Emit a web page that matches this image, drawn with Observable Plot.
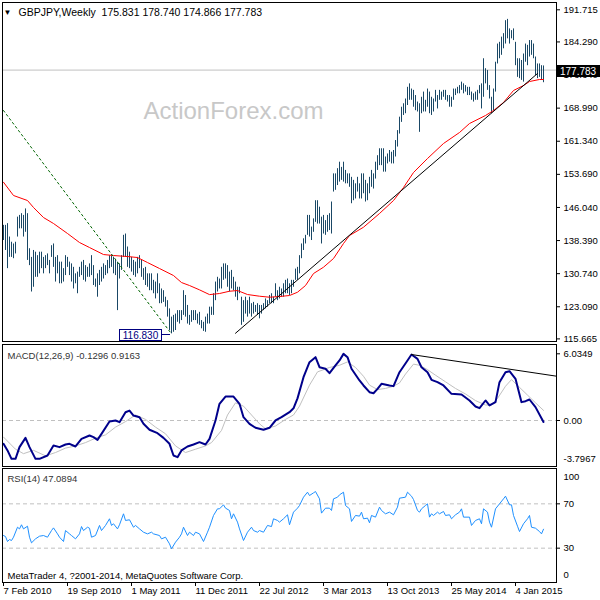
<!DOCTYPE html>
<html><head><meta charset="utf-8">
<script src="https://cdn.jsdelivr.net/npm/d3@7"></script>
<script src="https://cdn.jsdelivr.net/npm/@observablehq/plot@0.6"></script>
<style>
html,body{margin:0;padding:0;background:#fff;}
#chart{position:relative;width:600px;height:600px;background:#fff;overflow:hidden;}
</style></head><body><div id="chart"></div>
<script>
const FONT = "Tahoma, 'Liberation Sans', Arial, sans-serif";
const symbol = "GBPJPY", timeframe = "Weekly";
const lastOHLC = [175.831, 178.740, 174.866, 177.783];
const watermark = "ActionForex.com";
const copyright = "MetaTrader 4, ?2001-2014, MetaQuotes Software Corp.";

// weekly highs / lows, week 0 = 7 Feb 2010
const highs = [
141.9,141.9,142.3,139.2,138.0,137.6,138.0,143.8,144.2,144.6,
144.2,145.7,144.6,136.5,134.5,136.1,135.7,134.9,135.7,135.7,
134.5,134.9,135.3,133.8,137.2,137.6,134.5,134.9,133.4,133.4,
131.9,134.9,134.5,133.4,133.0,132.2,130.7,131.1,132.2,133.4,
133.8,132.6,132.2,133.0,134.9,132.6,129.5,130.7,131.5,132.2,
133.0,132.6,133.8,134.9,135.1,134.5,133.8,133.4,133.0,134.9,
139.6,139.9,136.9,135.7,134.5,133.8,133.4,134.5,134.9,133.8,
131.9,132.2,130.7,130.7,130.7,129.2,128.8,130.7,128.4,127.2,
126.8,125.3,124.5,122.6,120.7,121.1,121.4,122.2,122.2,122.2,
126.8,125.7,123.4,121.1,122.2,122.2,122.2,121.4,121.8,119.9,
119.5,120.7,121.4,123.0,123.0,126.1,128.8,129.9,129.5,132.2,
133.0,133.0,132.6,131.1,131.5,129.9,128.8,127.6,127.6,125.3,
124.5,125.3,124.5,125.3,123.8,124.1,123.4,123.8,123.4,123.4,
123.8,124.9,124.5,125.7,126.1,125.3,128.4,126.8,127.6,127.2,
128.4,129.2,129.5,128.4,129.2,129.2,131.8,132.2,134.9,137.6,
138.8,139.6,144.2,144.2,141.5,143.4,147.6,147.6,146.1,143.8,
144.2,143.0,144.2,144.6,147.3,153.8,153.8,155.0,156.5,155.3,
156.5,154.6,153.8,153.8,153.0,152.3,151.5,153.0,151.5,153.8,
153.8,152.3,151.5,153.0,154.6,153.8,156.5,158.0,159.6,159.6,
159.6,157.7,158.4,159.2,158.8,159.2,161.5,163.8,166.9,169.2,
170.0,171.1,173.8,174.6,173.4,173.1,171.9,170.4,170.0,171.5,
172.7,170.8,173.4,172.7,171.5,171.1,173.1,171.9,173.1,172.7,
173.1,173.1,171.9,171.9,171.5,173.4,173.4,173.8,174.2,175.0,
174.6,174.2,173.8,173.8,172.7,172.3,172.7,173.1,174.2,174.6,
180.4,178.1,177.7,174.2,171.5,173.4,179.6,183.8,184.2,185.4,
186.2,189.2,189.5,187.3,186.9,187.3,184.2,180.4,180.4,180.0,
181.5,183.8,183.5,184.6,184.6,183.8,180.8,179.2,179.2,178.8,
178.740];
const lows = [
138.4,136.1,131.9,134.5,134.5,134.2,135.3,139.2,141.1,141.1,
139.2,140.3,133.8,132.6,126.5,127.6,129.9,129.9,130.7,131.9,
130.7,131.9,132.6,130.7,134.5,132.2,128.8,130.7,128.4,128.4,
128.8,130.3,132.2,130.3,128.8,127.2,128.4,126.1,129.9,130.3,
129.2,128.8,129.9,129.9,130.3,128.0,127.6,125.3,128.0,128.8,
129.5,130.3,130.7,131.9,132.2,130.7,130.3,122.2,129.5,131.5,
134.5,134.5,132.2,131.9,131.1,130.3,129.9,130.7,131.9,129.9,
129.2,128.0,127.6,126.8,126.8,126.1,124.9,126.1,123.8,123.8,
124.1,123.0,120.7,117.6,116.83,117.2,117.6,119.5,119.1,119.9,
121.1,120.7,119.1,118.8,119.5,119.9,119.9,119.1,118.8,118.0,
117.4,117.2,119.1,119.1,121.1,121.1,124.5,126.5,127.2,127.2,
129.2,129.5,127.6,126.5,127.2,126.8,125.3,124.5,126.1,118.8,
119.5,121.4,120.7,121.4,120.7,121.4,121.8,121.1,120.3,121.4,
122.2,122.6,123.0,123.8,123.8,123.8,125.3,124.5,124.9,125.3,
125.3,126.1,126.1,125.7,126.1,127.6,129.2,129.2,130.7,134.2,
136.1,137.6,139.6,139.2,138.4,140.3,142.6,142.2,142.2,137.6,
139.9,139.6,140.3,140.7,139.9,149.6,150.0,151.1,151.9,152.3,
151.9,151.5,151.5,150.7,146.9,147.6,148.0,149.6,148.0,148.0,
149.2,147.3,147.6,149.2,150.7,150.3,152.6,154.6,155.7,155.7,
154.2,154.2,156.1,156.5,156.1,156.1,157.7,160.0,163.0,165.7,
167.3,167.7,169.6,170.8,170.8,169.2,168.4,168.1,163.4,167.7,
168.1,168.1,169.2,167.7,167.3,168.1,170.4,168.8,170.8,170.8,
171.5,170.8,170.4,169.2,169.2,170.8,171.9,172.3,172.3,173.1,
172.3,172.7,171.9,171.9,170.8,170.4,170.8,170.8,172.3,168.8,
171.5,174.6,173.1,171.1,167.7,168.4,172.7,179.2,180.4,181.2,
182.7,183.8,185.0,183.8,185.0,184.6,178.8,176.1,175.8,175.4,
175.0,179.6,178.8,180.8,181.2,180.4,176.5,175.8,176.1,175.4,
174.866];

// moving average (red)
const maWeeks  = [0,5,12,15,20,25,32,38,43,50,55,62,67,72,78,85,89,93,98,103,108,113,117,122,128,133,138,143,147,151,155,160,165,170,173,180,188,195,200,205,212,220,228,233,241,245,250,255,260,263,268,270];
const maValues = [151.87,148.80,147.64,146.03,143.71,142.33,140.02,137.94,136.78,135.16,134.93,134.70,134.47,133.31,131.93,130.31,128.69,128.0,127.0,125.9,126.15,126.68,126.84,125.92,125.53,125.3,125.46,125.69,126.45,128.0,130.77,132.23,134.24,137.71,139.55,141.47,144.64,147.64,150.65,154.12,157.35,160.82,163.36,165.44,167.29,168.44,170.29,173.07,174.22,175.14,175.61,175.6];

// drawn trend lines
const supportWeeks = [116, 267], supportValues = [116.97, 176.99];
const resistWeeks = [0, 84], resistValues = [168.44, 116.83];

// MACD(12,26,9)
const macdWeeks  = [0,2,4,6,8,11,13,16,18,22,25,28,31,33,36,39,43,45,47,49,53,56,58,61,63,65,68,70,73,77,80,83,85,87,89,92,95,98,101,103,106,108,111,115,118,120,123,126,130,133,136,139,143,145,147,150,153,156,158,161,163,166,168,170,172,174,178,180,183,185,187,189,193,195,198,202,204,207,209,212,214,217,220,224,229,233,236,238,241,243,246,248,251,253,256,259,261,263,266,270];
const macdValues = [-2.11,-2.71,-3.47,-3.47,-2.41,-1.57,-2.41,-3.47,-3.47,-3.17,-2.26,-2.41,-2.17,-2.11,-2.35,-1.66,-1.36,-1.51,-1.75,-1.21,-0.09,0,-0.15,0.75,0.90,0.45,0.30,-0.30,-0.84,-1.15,-1.57,-2.11,-3.17,-3.32,-2.71,-2.35,-2.17,-1.96,-2.17,-1.66,0,1.51,2.17,2.17,1.51,0.30,-0.30,-0.66,-0.84,-0.66,0,0.30,0.75,1.1,2.0,3.92,5.28,5.73,4.82,4.68,4.28,4.98,5.43,6.03,5.73,4.68,3.62,3.17,2.56,2.47,2.86,3.32,3.17,3.11,4.37,5.43,5.97,5.58,4.82,4.37,3.68,3.47,3.17,2.41,2.35,1.81,1.27,1.12,1.81,1.36,1.66,3.47,4.37,4.46,3.77,1.66,1.75,1.90,1.21,-0.1296];
const signalWeeks  = [0,6,10,15,21,26,31,36,41,46,51,56,61,66,71,76,81,86,91,96,101,104,109,112,116,120,124,128,131,136,141,145,148,153,157,163,168,172,176,180,183,187,191,195,198,201,205,208,212,216,221,226,231,236,241,244,247,251,254,258,262,266,270];
const signalValues = [-1.5,-2.6,-3.0,-2.7,-3.2,-2.9,-2.5,-2.3,-2.0,-1.6,-1.3,-0.6,-0.1,0.5,0.1,-0.6,-1.2,-2.3,-2.9,-2.6,-2.3,-2.0,-0.9,0.5,1.6,1.3,0.5,-0.3,-0.75,-0.5,0.1,0.5,1.3,3.2,4.4,4.8,5.0,5.3,4.8,4.0,3.2,2.8,2.9,3.1,3.4,4.2,5.1,5.0,4.6,4.1,3.5,2.9,2.4,1.8,1.4,1.4,2.0,3.1,3.7,3.0,2.3,1.6,0.9163];
const macdTrendWeeks = [204, 276.5], macdTrendValues = [5.97, 4.01];

// RSI(14)
const rsiWeeks  = [0,1,2,3,4,5,7,8,9,10,12,13,14,16,18,20,22,24,25,27,28,30,31,33,34,36,38,39,40,42,43,44,46,48,49,51,53,54,55,57,58,60,61,63,65,66,68,70,72,74,75,78,79,81,83,84,86,88,89,90,92,93,95,96,98,100,102,103,105,107,108,110,111,113,114,115,117,118,120,122,124,125,127,128,130,132,134,135,137,138,140,142,143,145,147,148,150,152,153,155,156,158,159,161,163,164,165,167,168,170,171,173,174,176,178,179,180,182,183,184,186,188,189,191,193,195,197,198,201,202,204,205,207,208,209,211,212,213,214,215,217,218,220,221,223,224,226,228,229,230,233,234,236,238,239,240,242,243,244,246,248,250,251,253,254,255,257,258,260,262,263,264,266,268,269,270];
const rsiValues = [41.4,40.5,36.0,37.8,36.9,39.9,48.9,47.4,51.1,47.4,49.8,39.9,34.8,38.4,40.8,41.4,39.9,45.9,48.3,42.9,39.9,36.0,45.9,42.9,41.4,38.4,42.9,49.5,45.9,48.9,48.0,39.9,41.4,50.5,45.9,50.5,56.5,50.5,52.0,47.4,51.1,61.0,55.0,55.6,48.9,50.5,47.4,44.4,42.9,44.4,42.9,41.4,38.4,39.9,33.9,29.4,35.4,39.9,42.9,48.9,41.4,44.4,41.4,44.4,42.9,36.0,44.4,48.9,59.5,65.5,65.5,69.1,66.1,64.0,56.5,61.0,53.5,47.4,36.9,44.4,48.9,45.9,44.4,45.9,44.4,50.5,49.5,56.5,55.0,53.5,56.5,60.1,51.1,62.5,66.1,68.5,76.0,80.5,77.5,79.9,81.1,74.5,61.6,66.1,66.1,64.0,74.5,76.0,78.1,80.5,68.5,65.5,54.1,59.5,58.9,62.5,56.5,57.1,52.9,59.5,58.0,67.0,64.0,61.0,62.5,60.1,67.0,75.1,76.0,80.5,76.9,73.9,64.0,62.5,65.5,68.5,70.0,58.0,61.0,59.5,62.5,61.0,63.1,59.5,60.1,56.5,60.1,62.5,65.5,58.0,58.0,50.5,55.0,56.5,52.0,65.5,62.5,53.5,48.9,65.5,70.0,74.5,76.9,69.1,69.1,59.5,49.8,45.0,52.0,56.5,59.5,48.9,48.0,45.0,42.9,47.0894];

// axes
const priceTicks = [191.715,184.290,176.640,168.990,161.340,153.690,146.040,138.390,130.740,123.090,115.665];
const macdTicks = [6.0349, 0, -3.7967];
const macdTickLabels = ["6.0349", "0.00", "-3.7967"];
const rsiTicks = [100, 70, 30, 0];
const rsiLevels = [70, 30];
const xTickWeeks = [0,32,64,96,128,160,192,224,256];
const xTickLabels = ["7 Feb 2010","19 Sep 2010","1 May 2011","11 Dec 2011","22 Jul 2012","3 Mar 2013","13 Oct 2013","25 May 2014","4 Jan 2015"];
const xDomain = [-0.5, 276.5];

// ---------- build ----------
const BAR = "#1a4866";
const pairs = (ks, vs) => ks.map((k, i) => ({week: k, value: vs[i]}));
const bars = highs.map((h, i) => ({week: i, high: h, low: lows[i]}));
const style = {fontFamily: FONT, fontSize: "9.5px", background: "transparent", overflow: "visible", color: "#000"};
const container = document.getElementById("chart");
function place(el, top) {
  el.style.position = "absolute"; el.style.left = "0px"; el.style.top = top + "px";
  container.appendChild(el);
}

const lastClose = lastOHLC[3];
const header = symbol + "," + timeframe + "\u00a0\u00a0" + lastOHLC.map(d => d.toFixed(3)).join(" ");

const price = Plot.plot({
  width: 600, height: 343, marginTop: 2, marginBottom: 2, marginLeft: 2, marginRight: 44,
  x: {domain: xDomain, axis: null},
  y: {domain: [priceTicks[priceTicks.length - 1], priceTicks[0]], range: [338.4, 9.3]},
  style,
  marks: [
    Plot.text([watermark], {text: d => d, frameAnchor: "top-left", dx: 141, dy: 109, fontSize: 24, fill: "#c8c8c8", textAnchor: "start", lineAnchor: "middle", fontFamily: "'Liberation Sans', Arial, sans-serif"}),
    Plot.ruleY([lastClose], {stroke: "#c0c0c0"}),
    Plot.ruleX(bars, {x: "week", y1: "low", y2: "high", stroke: BAR, strokeWidth: 1}),
    Plot.line(pairs(maWeeks, maValues), {x: "week", y: "value", stroke: "#ff0000", strokeWidth: 1}),
    Plot.line(pairs(supportWeeks, supportValues), {x: "week", y: "value", stroke: "#000", strokeWidth: 1}),
    Plot.line(pairs(resistWeeks, resistValues), {x: "week", y: "value", stroke: "#006400", strokeWidth: 1, strokeDasharray: "2,3"}),
    Plot.frame({stroke: "#000"}),
    Plot.axisY(priceTicks, {anchor: "right", tickSize: 3, tickPadding: 4, tickFormat: d => d.toFixed(3), label: null}),
    Plot.text(["\u25BC"], {text: d => d, frameAnchor: "top-left", dx: 5, dy: 10, fontSize: 8, textAnchor: "middle", lineAnchor: "middle"}),
    Plot.text([header], {text: d => d, frameAnchor: "top-left", dx: 16, dy: 10, fontSize: 10.5, textAnchor: "start", lineAnchor: "middle"})
  ]
});
place(price, 0);

// annotation boxes
{
  const sx = price.scale("x"), sy = price.scale("y");
  const svg = d3.select(price);
  const right = 600 - 44;
  const yc = sy.apply(lastClose);
  svg.append("rect").attr("x", right + 1).attr("y", Math.round(yc) - 5).attr("width", 44).attr("height", 12).attr("fill", "#000");
  svg.append("text").attr("x", right + 4).attr("y", Math.round(yc) + 1).attr("dy", "0.35em").attr("fill", "#fff")
     .attr("text-anchor", "start").attr("font-size", 10).attr("font-family", FONT).text(lastClose.toFixed(3));
  const lowVal = d3.min(lows), lowIdx = lows.indexOf(lowVal);
  const x0 = sx.apply(lowIdx), y0 = sy.apply(lowVal);
  svg.append("line").attr("x1", x0 - 9).attr("x2", x0 - 1).attr("y1", Math.round(y0) + 1.5).attr("y2", Math.round(y0) + 1.5).attr("stroke", "#000080");
  svg.append("rect").attr("x", Math.round(x0) - 51.5).attr("y", Math.round(y0) - 3.5).attr("width", 42).attr("height", 11).attr("fill", "#fff").attr("stroke", "#000080");
  svg.append("text").attr("x", Math.round(x0) - 30.5).attr("y", Math.round(y0) + 2).attr("dy", "0.35em").attr("text-anchor", "middle")
     .attr("fill", "#000080").attr("font-size", 10).attr("font-family", FONT).text(lowVal.toFixed(3));
}

const macdTitle = "MACD(12,26,9) " + macdValues[macdValues.length - 1].toFixed(4) + " " + signalValues[signalValues.length - 1].toFixed(4);
const macd = Plot.plot({
  width: 600, height: 124, marginTop: 1, marginBottom: 1, marginLeft: 2, marginRight: 44,
  x: {domain: xDomain, axis: null},
  y: {domain: [macdTicks[2], macdTicks[0]], range: [118.95, 10.31]},
  style,
  marks: [
    Plot.ruleY([0], {stroke: "#c0c0c0", strokeDasharray: "4,3"}),
    Plot.line(pairs(signalWeeks, signalValues), {x: "week", y: "value", stroke: "#c0c0c0", strokeWidth: 1}),
    Plot.line(pairs(macdWeeks, macdValues), {x: "week", y: "value", stroke: "#00008b", strokeWidth: 2}),
    Plot.line(pairs(macdTrendWeeks, macdTrendValues), {x: "week", y: "value", stroke: "#000", strokeWidth: 1}),
    Plot.frame({stroke: "#000"}),
    Plot.axisY(macdTicks.slice(0, 2), {anchor: "right", tickSize: 3, tickPadding: 4, tickFormat: d => macdTickLabels[macdTicks.indexOf(d)], label: null}),
    Plot.text(macdTicks.slice(2), {y: d => d, text: d => macdTickLabels[macdTicks.indexOf(d)], frameAnchor: "right", dx: 7, dy: -3, textAnchor: "start"}),
    Plot.text([macdTitle], {text: d => d, frameAnchor: "top-left", dx: 5, dy: 11, textAnchor: "start", lineAnchor: "middle", fill: "#333"})
  ]
});
place(macd, 343);

const rsiTitle = "RSI(14) " + rsiValues[rsiValues.length - 1].toFixed(4);
const rsi = Plot.plot({
  width: 600, height: 133, marginTop: 1, marginBottom: 18, marginLeft: 2, marginRight: 44,
  x: {domain: xDomain},
  y: {domain: [0, 100], range: [113.91, 3.08]},
  style,
  marks: [
    Plot.ruleY(rsiLevels, {stroke: "#c0c0c0", strokeDasharray: "4,3"}),
    Plot.line(pairs(rsiWeeks, rsiValues), {x: "week", y: "value", stroke: "#1e90ff", strokeWidth: 1}),
    Plot.frame({stroke: "#000"}),
    Plot.axisY(rsiLevels, {anchor: "right", tickSize: 3, tickPadding: 4, label: null}),
    Plot.text([rsiTicks[0]], {y: d => d, text: d => String(d), frameAnchor: "right", dx: 7, dy: 6, textAnchor: "start"}),
    Plot.text([rsiTicks[3]], {y: d => d, text: d => String(d), frameAnchor: "right", dx: 7, dy: -6, textAnchor: "start"}),
    Plot.axisX(xTickWeeks, {anchor: "bottom", tickSize: 4, tickPadding: 1, textAnchor: "start", tickFormat: d => xTickLabels[xTickWeeks.indexOf(d)], label: null}),
    Plot.text([rsiTitle], {text: d => d, frameAnchor: "top-left", dx: 5, dy: 10, textAnchor: "start", lineAnchor: "middle", fill: "#333"}),
    Plot.text([copyright], {text: d => d, frameAnchor: "top-left", dx: 5, dy: 107, textAnchor: "start", lineAnchor: "middle"})
  ]
});
place(rsi, 467);
</script></body></html>
